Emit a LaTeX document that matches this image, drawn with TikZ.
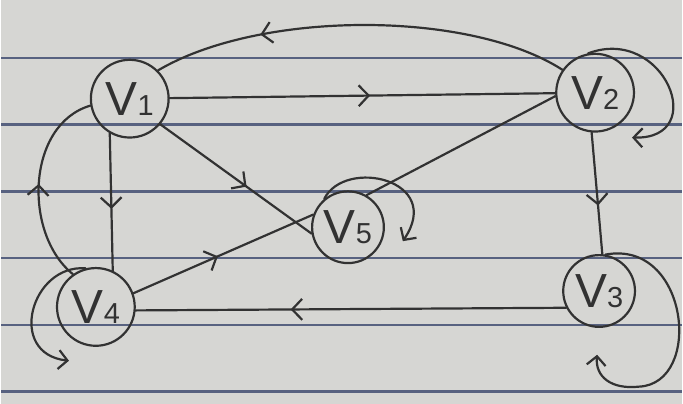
\documentclass[tikz,border=0pt]{standalone}
\usepackage{fontspec}
\setmainfont{Liberation Sans}
\usetikzlibrary{arrows.meta,decorations.markings}
\definecolor{paper}{RGB}{214,214,211}
\definecolor{ruling}{RGB}{88,98,128}
\definecolor{penc}{RGB}{50,50,50}
\newcommand{\vlab}[1]{{\fontsize{48}{48}\selectfont V}{\fontsize{29}{29}\selectfont #1}}
\begin{document}
\begin{tikzpicture}[x=1pt,y=-1pt,
  pen/.style={draw=penc, line width=2.2pt, line cap=round, line join=round},
  vert/.style={circle, draw=penc, line width=2.2pt, minimum size=#1, inner sep=0pt, text=penc},
  barb/.style={-{Straight Barb[length=9pt,width=19pt,line width=2.2pt]}},
  midarr/.style={postaction={decorate}, decoration={markings, mark=at position #1 with {\arrow{Straight Barb[length=10pt,width=21pt,line width=2.2pt]}}}}
]
% paper
\fill[paper] (0,0) rectangle (683,405);
\foreach \yy in {58,125,192,259,326,393} \draw[ruling, line width=2.4pt] (0,\yy) -- (683,\yy);
\useasboundingbox (0,0) rectangle (683,405);

% vertices
\node[vert=78pt] (v1) at (129,99) {\vlab{1}};
\node[vert=78pt] (v2) at (596,93) {\vlab{2}};
\node[vert=72pt] (v3) at (600,292) {\vlab{3}};
\node[vert=78pt] (v4) at (95,308) {\vlab{4}};
\node[vert=72pt] (v5) at (348,228) {\vlab{5}};

% free ends of self loops
\coordinate (e2) at (633,138);
\coordinate (e3) at (598,356);
\coordinate (e4) at (68,362);
\coordinate (e5) at (403,242);

% edges
\draw[pen, midarr=0.74] (v2.145) .. controls (470,10) and (260,10) .. (v1.45);
\draw[pen, midarr=0.52] (v1) -- (v2);
\draw[pen, midarr=0.57] (v1.-40) -- (v5.190);
\draw[pen, midarr=0.47] (v4.20) -- (v5.160);
\draw[pen] (v5.60) -- (v2.185);
\draw[pen, midarr=0.55] (v1.-120) -- (v4.65);
\draw[pen, midarr=0.5] (v4.125) .. controls (22,235) and (25,125) .. (v1.190);
\draw[pen, midarr=0.64] (v3.207) -- (v4.-5);
\draw[pen, midarr=0.6] (v2.-95) -- (v3.85);

% self loops
\draw[pen, barb] (v2.100) .. controls (665,25) and (712,140) .. (e2);
\draw[pen, barb] (v3.80) .. controls (690,240) and (705,385) .. (640,388) .. controls (612,391) and (596,378) .. (e3);
\draw[pen, barb] (v4.105) .. controls (30,265) and (5,355) .. (e4);
\draw[pen, barb] (v5.130) .. controls (345,158) and (445,180) .. (e5);
\end{tikzpicture}
\end{document}
